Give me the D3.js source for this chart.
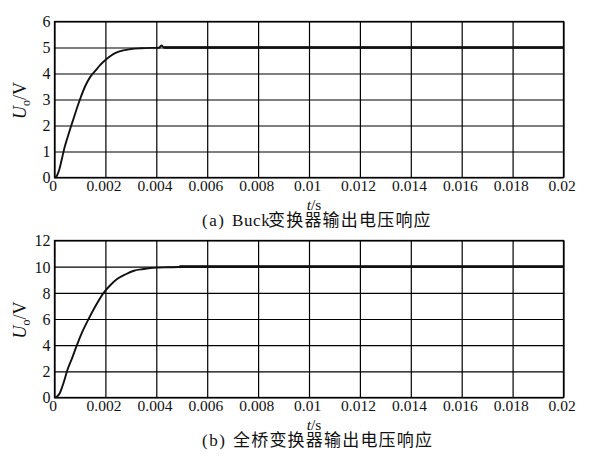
<!DOCTYPE html>
<html>
<head>
<meta charset="utf-8">
<script src="https://cdn.jsdelivr.net/npm/d3@7"></script>
<style>
  html, body { margin: 0; padding: 0; background: #fff; }
  svg { display: block; }
  .serif { font-family: "Liberation Serif", "Times New Roman", "DejaVu Serif", serif; }
  .cjk { font-family: "Noto Sans CJK SC", sans-serif; }
</style>
</head>
<body>
<svg id="chart" width="615" height="463"></svg>
<script>
// ---------- data ----------
const xTicks = [0, 0.002, 0.004, 0.006, 0.008, 0.01, 0.012, 0.014, 0.016, 0.018, 0.02];
const xTickLabels = ["0", "0.002", "0.004", "0.006", "0.008", "0.01", "0.012", "0.014", "0.016", "0.018", "0.02"];
const yTicksA = [0, 1, 2, 3, 4, 5, 6];
const yTicksB = [0, 2, 4, 6, 8, 10, 12];

// (a) Buck converter output voltage
const tA = [0, 0.00005, 0.0001, 0.0002, 0.0003, 0.0004, 0.0005, 0.0006, 0.0007, 0.0008, 0.0009, 0.001, 0.0012, 0.0014, 0.0016, 0.0018, 0.002, 0.0022, 0.0024, 0.0027, 0.003, 0.0034, 0.0038, 0.0041, 0.0042, 0.0043, 0.0046, 0.02];
const uA = [0, 0.02, 0.08, 0.35, 0.76, 1.17, 1.5, 1.82, 2.12, 2.42, 2.72, 3.0, 3.5, 3.86, 4.1, 4.33, 4.52, 4.67, 4.79, 4.89, 4.94, 4.97, 4.985, 4.99, 5.08, 5.0, 5.0, 5.0];

// (b) Full-bridge converter output voltage
const tB = [0, 0.0001, 0.0002, 0.0003, 0.0004, 0.00049, 0.0007, 0.00088, 0.0011, 0.00134, 0.0016, 0.00193, 0.0022, 0.00246, 0.0028, 0.00312, 0.0035, 0.00378, 0.0041, 0.00443, 0.0049, 0.00495, 0.02];
const uB = [0, 0.08, 0.3, 0.8, 1.4, 2.0, 3.05, 4.0, 5.05, 6.0, 6.95, 8.0, 8.6, 9.05, 9.42, 9.69, 9.82, 9.9, 9.93, 9.95, 9.97, 10.0, 10.0];

const xTitle = ["t", "/s"];
const yTitle = ["U", "o", "/V"];
const captionA = ["(a)", "Buck", "变换器输出电压响应"];
const captionB = ["(b)", "", "全桥变换器输出电压响应"];

// ---------- drawing ----------
const svg = d3.select("#chart");

function panel(top, bottom, yMax, yTicks, t, u, caption) {
  const left = 54.5, right = 563.5;
  const x = d3.scaleLinear().domain([0, 0.02]).range([left, right]);
  const y = d3.scaleLinear().domain([0, yMax]).range([bottom, top]);
  const g = svg.append("g");

  // x axis with vertical gridlines
  const xa = g.append("g")
    .attr("transform", `translate(0,${bottom})`)
    .call(d3.axisBottom(x).tickValues(xTicks)
      .tickFormat((d, i) => xTickLabels[i])
      .tickSize(-(bottom - top)).tickPadding(4));
  xa.attr("font-family", null).attr("font-size", null);
  xa.select(".domain").remove();
  xa.selectAll("line").attr("stroke", "#000").attr("stroke-width", 1.2);
  xa.selectAll("text").attr("class", "serif").style("font-size", "15.5px")
    .attr("fill", "#111").attr("dx", "-0.12em").attr("dy", "0.62em");

  // y axis with horizontal gridlines
  const ya = g.append("g")
    .attr("transform", `translate(${left},0)`)
    .call(d3.axisLeft(y).tickValues(yTicks).tickFormat(d3.format("d"))
      .tickSize(-(right - left)).tickPadding(4));
  ya.attr("font-family", null).attr("font-size", null);
  ya.select(".domain").remove();
  ya.selectAll("line").attr("stroke", "#000").attr("stroke-width", 1.2);
  ya.selectAll("text").attr("class", "serif").style("font-size", "16px")
    .attr("fill", "#111").attr("dy", "0.34em");

  // frame
  g.append("rect").attr("x", left).attr("y", top)
    .attr("width", right - left).attr("height", bottom - top)
    .attr("fill", "none").attr("stroke", "#000").attr("stroke-width", 1.3);

  // curve
  const pts = t.map((d, i) => [d, u[i]]);
  g.append("path").datum(pts)
    .attr("fill", "none").attr("stroke", "#111").attr("stroke-width", 1.9)
    .attr("d", d3.line().x(d => x(d[0])).y(d => y(d[1])).curve(d3.curveMonotoneX));
  // steady-state part drawn heavier, as in the reference
  const steady = pts.filter(d => d[0] >= t[t.length - 3]);
  g.append("path").datum(steady)
    .attr("fill", "none").attr("stroke", "#111").attr("stroke-width", 2.6)
    .attr("d", d3.line().x(d => x(d[0])).y(d => y(d[1])));

  // x title
  const xt = g.append("text").attr("class", "serif").attr("x", 314).attr("y", bottom + 32.5)
    .attr("text-anchor", "middle").style("font-size", "15.5px").attr("fill", "#111");
  xt.append("tspan").attr("font-style", "italic").text(xTitle[0]);
  xt.append("tspan").text(xTitle[1]);

  // y title
  const yt = g.append("text").attr("class", "serif")
    .attr("transform", `translate(${26},${(top + bottom) / 2 + 1}) rotate(-90)`)
    .attr("text-anchor", "middle").style("font-size", "18px").attr("fill", "#111");
  yt.append("tspan").attr("font-style", "italic").text(yTitle[0]);
  yt.append("tspan").style("font-size", "12px").attr("dy", 4).text(yTitle[1]);
  yt.append("tspan").attr("dy", -4).text(yTitle[2]);

  // caption
  const cy = bottom + 48;
  const cap = g.append("text").attr("y", cy).attr("fill", "#111").style("font-size", "17px");
  cap.append("tspan").attr("class", "serif").attr("x", 202).attr("letter-spacing", 1.5).text(caption[0]);
  if (caption[1]) {
    cap.append("tspan").attr("class", "serif").attr("x", 232).attr("letter-spacing", 0.6).text(caption[1]);
    cap.append("tspan").attr("class", "cjk").attr("x", 268).attr("letter-spacing", 1.2).text(caption[2]);
  } else {
    cap.append("tspan").attr("class", "cjk").attr("x", 233).attr("letter-spacing", 1.2).text(caption[2]);
  }
}

panel(21.5, 177.5, 6, yTicksA, tA, uA, captionA);
panel(240.5, 397.5, 12, yTicksB, tB, uB, captionB);
</script>
</body>
</html>
